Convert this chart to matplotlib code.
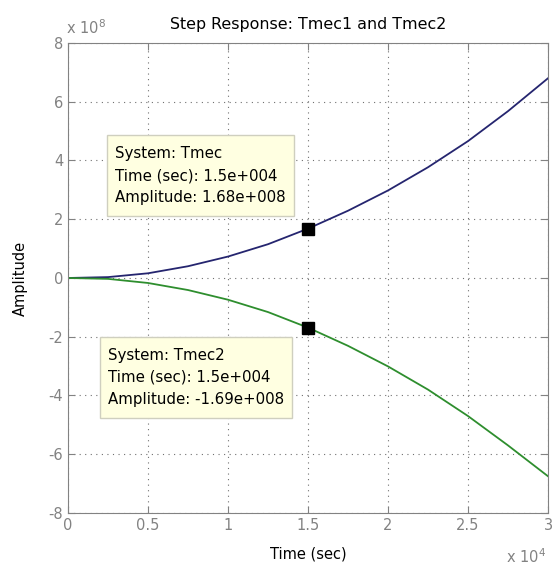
import matplotlib.pyplot as plt
from matplotlib.patches import Rectangle
import numpy as np

# step response samples, time in 1e4 s, amplitude in 1e8
time_e4 = [0, 0.25, 0.5, 0.75, 1.0, 1.25, 1.5, 1.75, 2.0, 2.25, 2.5, 2.75, 3.0]
tmec1_e8 = [0, 0.03, 0.16, 0.40, 0.73, 1.15, 1.68, 2.29, 2.98, 3.77, 4.66, 5.68, 6.80]
tmec2_e8 = [0, -0.03, -0.17, -0.41, -0.74, -1.16, -1.69, -2.31, -3.01, -3.80, -4.70, -5.70, -6.75]

# data tips
tip_names = ['Tmec', 'Tmec2']
tip_time = 1.5e4
tip_amp = [1.68e8, -1.69e8]

x_ticks = [0, 0.5, 1, 1.5, 2, 2.5, 3]
x_tick_labels = ['0', '0.5', '1', '1.5', '2', '2.5', '3']
y_ticks = [-8, -6, -4, -2, 0, 2, 4, 6, 8]

plt.rcParams['font.family'] = ['DejaVu Sans']
plt.rcParams['axes.unicode_minus'] = False
gray = '#828282'

fig = plt.figure(figsize=(5.52, 5.74), dpi=100)
ax = fig.add_axes([0.1232, 0.1063, 0.8696, 0.8188])

ax.plot(time_e4, tmec1_e8, color='#25256f', lw=1.3)
ax.plot(time_e4, tmec2_e8, color='#2e8e2e', lw=1.3)

# markers at the data tips
for amp in tip_amp:
    ax.plot(tip_time / 1e4, amp / 1e8, marker='s', color='black', ms=9, zorder=5)

ax.set_xlim(0, 3)
ax.set_ylim(-8, 8)

# tip boxes: text first, then a box sized around it
tip_pos = [(0.294, 4.49), (0.25, -2.38)]
renderer = fig.canvas.get_renderer()
for name, amp, (tx, ty) in zip(tip_names, tip_amp, tip_pos):
    s = f'System: {name}\nTime (sec): {tip_time:.1e}\nAmplitude: {amp:.3g}'
    s = s.replace('e+04', 'e+004').replace('e+08', 'e+008')
    t = ax.text(tx, ty, s, fontsize=10.8, va='top', ha='left', linespacing=1.58,
                zorder=7)
    bb = t.get_window_extent(renderer)
    padx, pady = 8, 11
    (x0, y0), (x1, y1) = ax.transData.inverted().transform(
        [(bb.x0 - padx, bb.y0 - pady), (bb.x1 + padx, bb.y1 + pady)])
    ax.add_patch(Rectangle((x0, y0), x1 - x0, y1 - y0, fc='#ffffe1',
                           ec='#cfcfbf', lw=1, zorder=6))

ax.set_xticks(x_ticks)
ax.set_xticklabels(x_tick_labels)
ax.set_yticks(y_ticks)
ax.tick_params(direction='in', top=True, right=True, length=5, color=gray,
               labelcolor=gray, labelsize=10.5)
for sp in ax.spines.values():
    sp.set_color(gray)
ax.grid(True, linestyle=(0, (1, 4)), color='#707070', lw=0.8)

ax.set_title('Step Response: Tmec1 and Tmec2', fontsize=11.4, pad=10)
ax.set_xlabel('Time (sec)', fontsize=10.5, labelpad=10)
ax.set_ylabel('Amplitude', fontsize=10.5, labelpad=15)

# exponent labels
ax.text(-0.005, 1.012, r'x 10$^{8}$', transform=ax.transAxes, color=gray,
        fontsize=10.5, ha='left', va='bottom')
ax.text(0.995, -0.072, r'x 10$^{4}$', transform=ax.transAxes, color=gray,
        fontsize=10.5, ha='right', va='top')

fig.savefig('out.png', dpi=100)
